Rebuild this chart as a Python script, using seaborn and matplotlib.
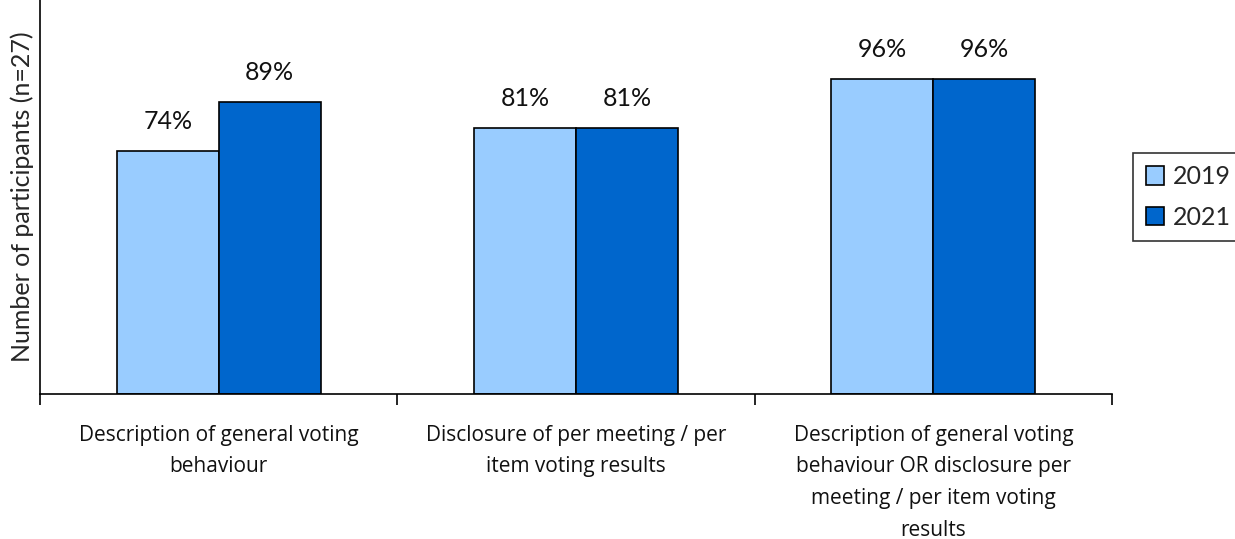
import matplotlib
matplotlib.use("Agg")
import matplotlib.pyplot as plt
import seaborn as sns
import pandas as pd

categories = [
    "Description of general voting\nbehaviour",
    "Disclosure of per meeting / per\nitem voting results",
    "Description of general voting\nbehaviour OR disclosure per\nmeeting / per item voting\nresults",
]
years = ["2019", "2021"]
pct_2019 = [74, 81, 96]
pct_2021 = [89, 81, 96]
colors = ["#99CCFF", "#0066CC"]

df = pd.DataFrame({
    "category": categories * 2,
    "year": [years[0]] * 3 + [years[1]] * 3,
    "pct": pct_2019 + pct_2021,
})

sns.set_theme(style="white")
plt.rcParams["font.family"] = ["Lato", "DejaVu Sans"]

fig = plt.figure(figsize=(12.35, 5.39), dpi=100)
ax = fig.add_axes([40 / 1235, 1 - 394 / 539, (1112 - 40) / 1235, 394 / 539])

sns.barplot(data=df, x="category", y="pct", hue="year", order=categories,
            hue_order=years, palette=colors, width=0.57, saturation=1,
            edgecolor="black", linewidth=1.2, ax=ax, legend=True)

for cont in ax.containers:
    ax.bar_label(cont, labels=[f"{v:.0f}%" for v in cont.datavalues],
                 padding=13, fontsize=18, color="#111111")

ax.set_ylim(0, 120)
ax.set_xlim(-0.5, 2.5)
ax.set_yticks([])
ax.set_xlabel("")
ax.set_ylabel("Number of participants (n=27)", fontsize=18, labelpad=4)

for side in ["top", "right"]:
    ax.spines[side].set_visible(False)
for side in ["left", "bottom"]:
    ax.spines[side].set_color("black")
    ax.spines[side].set_linewidth(1.2)

ax.set_xticks([0, 1, 2])
ax.set_xticklabels(categories, fontsize=15, linespacing=1.68,
                   family=["Open Sans", "DejaVu Sans"], color="#111111")
ax.tick_params(axis="x", which="major", length=0, pad=22)
ax.set_xticks([-0.5, 0.5, 1.5, 2.5], minor=True)
ax.tick_params(axis="x", which="minor", length=8, width=1.2, color="black",
               direction="out", bottom=True)

leg = ax.legend(loc="center left", bbox_to_anchor=(1133 / 1235, 1 - 197 / 539),
                bbox_transform=fig.transFigure, fontsize=18, frameon=True,
                fancybox=False, edgecolor="black", handlelength=0.75,
                handleheight=0.75, handletextpad=0.35, labelspacing=0.7,
                borderpad=0.5, borderaxespad=0, title=None)
leg.get_frame().set_linewidth(1.2)

fig.savefig("out.png", dpi=100)
